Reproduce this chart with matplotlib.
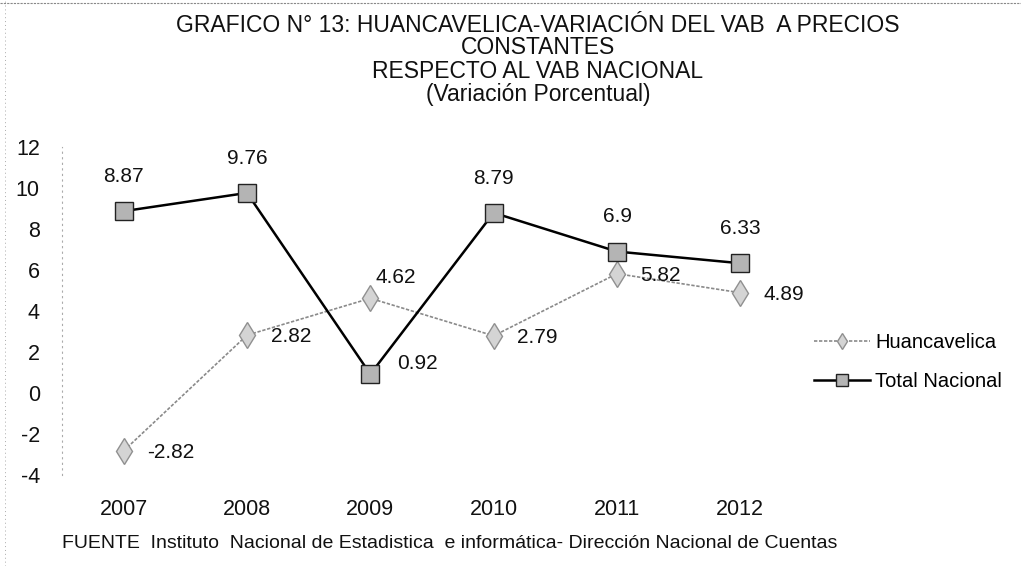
import matplotlib.pyplot as plt
from matplotlib.lines import Line2D

# Data
years = ["2007", "2008", "2009", "2010", "2011", "2012"]
huancavelica = [-2.82, 2.82, 4.62, 2.79, 5.82, 4.89]
total_nacional = [8.87, 9.76, 0.92, 8.79, 6.9, 6.33]
y_ticks = [-4, -2, 0, 2, 4, 6, 8, 10, 12]

plt.rcParams["font.family"] = ["Liberation Sans Narrow", "Liberation Sans", "DejaVu Sans"]
plt.rcParams["axes.unicode_minus"] = False

fig = plt.figure(figsize=(10.21, 5.66), dpi=100)
ax = fig.add_axes([62 / 1021, 91 / 566, 740 / 1021, 328 / 566])

x = list(range(len(years)))
ax.plot(x, huancavelica, color="#8a8a8a", lw=1.2, ls=(0, (2, 1)),
        marker="d", ms=13, mfc="#d4d4d4", mec="#909090", mew=1.0,
        label="Huancavelica", zorder=3)
ax.plot(x, total_nacional, color="black", lw=1.8, ls="-",
        marker="s", ms=13, mfc="#b4b4b4", mec="#222222", mew=1.0,
        label="Total Nacional", zorder=4)

lab_font = dict(fontsize=15, color="#111111")

# labels for Total Nacional: above, except 2009 to the right
for i, v in enumerate(total_nacional):
    if i == 2:
        ax.annotate(f"{v:g}", (i, v), xytext=(19, 8), textcoords="offset points",
                    ha="left", va="center", **lab_font)
    else:
        ax.annotate(f"{v:g}", (i, v), xytext=(0, 25), textcoords="offset points",
                    ha="center", va="center", **lab_font)

# labels for Huancavelica: right, except 2009 above
for i, v in enumerate(huancavelica):
    if i == 2:
        ax.annotate(f"{v:g}", (i, v), xytext=(4, 15), textcoords="offset points",
                    ha="left", va="center", **lab_font)
    else:
        ax.annotate(f"{v:g}", (i, v), xytext=(17, -1), textcoords="offset points",
                    ha="left", va="center", **lab_font)

ax.set_xlim(-0.5, 5.5)
ax.set_ylim(-4, 12)
ax.set_xticks(x)
ax.set_xticklabels(years)
ax.set_yticks(y_ticks)
ax.tick_params(axis="x", length=0, pad=17, labelsize=15.5, labelcolor="#111111")
ax.tick_params(axis="y", length=0, pad=16, labelsize=15.5, labelcolor="#111111")
for s in ["top", "right", "bottom"]:
    ax.spines[s].set_visible(False)
ax.spines["left"].set_color("#aaaaaa")
ax.spines["left"].set_linestyle((0, (1, 4)))
ax.spines["left"].set_linewidth(0.8)

# legend outside at the right
fig.legend(handles=ax.get_lines(), loc="upper left",
           bbox_to_anchor=(806 / 1021, 1 - 325 / 566), frameon=False,
           fontsize=14.5, handlelength=2.8, handletextpad=0.25, labelspacing=1.0,
           markerscale=0.65, borderaxespad=0)

# title lines
title_lines = ["GRAFICO N° 13: HUANCAVELICA-VARIACIÓN DEL VAB  A PRECIOS",
               "CONSTANTES",
               "RESPECTO AL VAB NACIONAL",
               "(Variación Porcentual)"]
for line, ypix in zip(title_lines, [25, 48, 71, 94]):
    fig.text(538 / 1021, 1 - ypix / 566, line, ha="center", va="center",
             fontsize=16.5, color="#111111")

fig.text(62 / 1021, 1 - 543 / 566,
         "FUENTE  Instituto  Nacional de Estadistica  e informática- Dirección Nacional de Cuentas",
         ha="left", va="center", fontsize=14, color="#111111")

# dotted page borders
fig.add_artist(Line2D([0, 1], [1 - 3 / 566, 1 - 3 / 566], transform=fig.transFigure,
                      color="#888888", lw=0.8, ls=(0, (2, 1))))
fig.add_artist(Line2D([5 / 1021, 5 / 1021], [0, 1], transform=fig.transFigure,
                      color="#aaaaaa", lw=0.7, ls=(0, (1, 3))))

fig.savefig("out.png", dpi=100)
